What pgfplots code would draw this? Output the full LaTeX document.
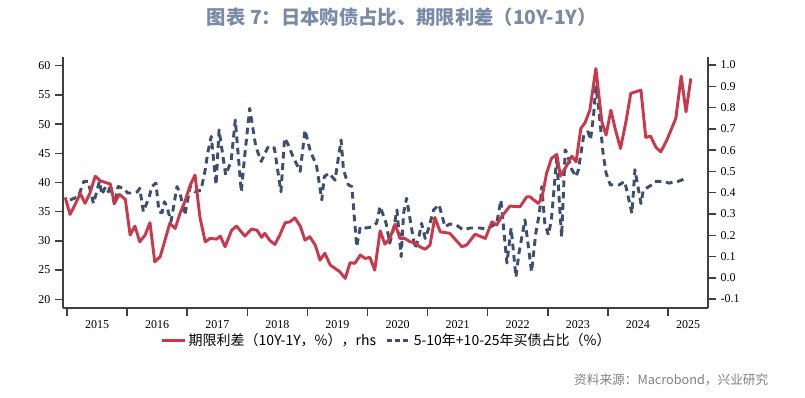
\documentclass[border=0pt]{standalone}
\usepackage{fontspec}
\setmainfont{Liberation Serif}
\newfontfamily\cjk{Noto Sans CJK SC}
\usepackage{pgfplots}
\pgfplotsset{compat=1.18}
\definecolor{redline}{RGB}{201,56,75}
\definecolor{blueline}{RGB}{61,78,110}
\definecolor{titlecol}{RGB}{122,139,166}
\definecolor{srccol}{RGB}{128,128,128}
\definecolor{axcol}{RGB}{64,64,64}
\begin{document}
\begin{tikzpicture}
\useasboundingbox (-47.25pt,-67.5pt) rectangle (556.5pt,231pt);
\begin{axis}[
  at={(0,0)}, anchor=south west, scale only axis,
  width=483.75pt, height=188.25pt,
  xmin=2014.933, xmax=2025.666, ymin=18.5, ymax=61.5,
  axis x line*=bottom, axis y line*=left,
  axis line style={axcol, line width=1.1pt, -},
  xtick={2015.5,2016.5,2017.5,2018.5,2019.5,2020.5,2021.5,2022.5,2023.5,2024.5,2025.333},
  xticklabels={2015,2016,2017,2018,2019,2020,2021,2022,2023,2024,2025},
  minor xtick={2015,2016,2017,2018,2019,2020,2021,2022,2023,2024,2025},
  major x tick style={draw=none},
  minor x tick style={axcol, line width=1.1pt},
  ytick={20,25,30,35,40,45,50,55,60},
  yticklabels={20,25,30,35,40,45,50,55,60},
  ytick style={axcol, line width=1.1pt},
  tick align=outside, major tick length=6pt, minor tick length=6pt,
  tick label style={font=\fontsize{9}{10}\selectfont, text=black},
]
\addplot[blueline, line width=2.2pt, dash pattern=on 5pt off 3.5pt, line join=round] coordinates {
(2015.05,37.0)(2015.19,37.6)(2015.28,40.2)(2015.35,40.2)(2015.44,36.4)(2015.54,40.2)(2015.58,37.9)(2015.64,39.3)(2015.69,38.4)(2015.72,39.6)(2015.79,36.2)(2015.85,39.3)(2015.94,39.0)(2016.01,38.2)(2016.09,38.2)(2016.17,38.4)(2016.21,39.0)(2016.27,35.0)(2016.37,37.6)(2016.41,39.3)(2016.48,39.9)(2016.53,35.0)(2016.58,34.8)(2016.62,36.7)(2016.66,35.9)(2016.73,33.3)(2016.83,39.3)(2016.88,38.2)(2016.96,34.4)(2017.05,39.3)(2017.13,38.4)(2017.23,38.7)(2017.30,42.2)(2017.34,45.0)(2017.40,47.9)(2017.48,39.6)(2017.53,49.0)(2017.64,41.3)(2017.73,43.6)(2017.80,50.7)(2017.90,38.4)(2017.95,43.9)(2018.04,52.7)(2018.14,46.2)(2018.23,43.6)(2018.35,46.2)(2018.45,45.9)(2018.56,38.4)(2018.62,47.6)(2018.67,46.7)(2018.77,44.2)(2018.88,41.9)(2018.96,49.0)(2019.05,45.3)(2019.15,43.0)(2019.24,37.0)(2019.28,41.0)(2019.36,41.6)(2019.46,40.4)(2019.56,47.3)(2019.60,42.2)(2019.68,39.6)(2019.74,39.3)(2019.82,29.0)(2019.88,32.4)(2019.98,32.2)(2020.07,32.4)(2020.15,33.0)(2020.21,35.9)(2020.31,33.0)(2020.37,29.6)(2020.43,31.9)(2020.49,35.3)(2020.56,27.3)(2020.60,34.7)(2020.65,37.3)(2020.71,33.6)(2020.79,28.7)(2020.85,30.4)(2020.90,33.0)(2020.96,30.4)(2021.01,31.9)(2021.10,35.3)(2021.19,36.2)(2021.29,32.4)(2021.37,32.9)(2021.48,32.7)(2021.59,31.9)(2021.71,32.2)(2021.87,32.2)(2021.98,32.0)(2022.15,33.0)(2022.22,37.0)(2022.32,26.2)(2022.39,32.2)(2022.47,23.8)(2022.52,27.9)(2022.62,33.6)(2022.73,24.7)(2022.80,31.3)(2022.86,34.7)(2022.90,39.3)(2022.95,33.0)(2023.01,31.0)(2023.06,33.6)(2023.15,44.4)(2023.19,37.0)(2023.23,30.7)(2023.29,45.6)(2023.32,45.0)(2023.40,42.2)(2023.47,41.0)(2023.51,42.2)(2023.60,48.2)(2023.67,48.7)(2023.71,47.3)(2023.76,51.3)(2023.80,56.4)(2023.84,53.3)(2023.89,48.2)(2023.92,45.0)(2023.97,41.6)(2024.04,39.6)(2024.19,39.6)(2024.28,40.2)(2024.40,34.7)(2024.45,42.2)(2024.55,36.4)(2024.59,38.7)(2024.73,39.6)(2024.78,40.2)(2024.91,40.2)(2025.02,39.9)(2025.17,40.2)(2025.30,40.7)
};
\end{axis}
\begin{axis}[
  at={(0,0)}, anchor=south west, scale only axis,
  width=483.75pt, height=188.25pt,
  xmin=2014.933, xmax=2025.666, ymin=-0.142, ymax=1.038,
  hide x axis, axis y line*=right,
  axis line style={axcol, line width=1.1pt, -},
  ytick={-0.1,0,0.1,0.2,0.3,0.4,0.5,0.6,0.7,0.8,0.9,1.0},
  yticklabels={-0.1,0.0,0.1,0.2,0.3,0.4,0.5,0.6,0.7,0.8,0.9,1.0},
  ytick style={axcol, line width=1.1pt},
  tick align=outside, major tick length=6pt,
  tick label style={font=\fontsize{9}{10}\selectfont, text=black},
  legend style={at={(0.502,-0.13)}, anchor=center, draw=none, fill=none,
    font=\cjk\fontsize{10.5}{12}\selectfont, legend columns=2,
    /tikz/every even column/.append style={column sep=5pt}},
  legend cell align=left,
]
\addplot[redline, line width=2.2pt, line join=round] coordinates {
(2014.97,0.378)(2015.05,0.298)(2015.13,0.342)(2015.22,0.397)(2015.30,0.350)(2015.38,0.397)(2015.47,0.478)(2015.55,0.456)(2015.72,0.441)(2015.79,0.350)(2015.87,0.392)(2015.97,0.369)(2016.05,0.201)(2016.13,0.243)(2016.21,0.169)(2016.30,0.201)(2016.38,0.259)(2016.46,0.075)(2016.55,0.099)(2016.63,0.177)(2016.71,0.256)(2016.80,0.232)(2016.88,0.303)(2016.96,0.357)(2017.05,0.436)(2017.13,0.483)(2017.21,0.287)(2017.30,0.169)(2017.38,0.185)(2017.49,0.182)(2017.55,0.196)(2017.63,0.146)(2017.74,0.224)(2017.82,0.243)(2017.96,0.196)(2018.07,0.229)(2018.16,0.224)(2018.24,0.190)(2018.29,0.209)(2018.38,0.174)(2018.46,0.157)(2018.54,0.201)(2018.63,0.259)(2018.71,0.263)(2018.79,0.282)(2018.88,0.243)(2018.96,0.177)(2019.04,0.193)(2019.13,0.154)(2019.21,0.083)(2019.29,0.115)(2019.38,0.060)(2019.54,0.028)(2019.63,-0.003)(2019.71,0.071)(2019.79,0.068)(2019.88,0.107)(2019.96,0.091)(2020.04,0.096)(2020.12,0.036)(2020.21,0.221)(2020.29,0.158)(2020.37,0.185)(2020.46,0.252)(2020.54,0.185)(2020.62,0.185)(2020.71,0.169)(2020.79,0.165)(2020.87,0.146)(2020.96,0.134)(2021.04,0.154)(2021.12,0.284)(2021.21,0.216)(2021.37,0.209)(2021.57,0.146)(2021.65,0.154)(2021.79,0.205)(2021.96,0.185)(2022.07,0.263)(2022.15,0.248)(2022.23,0.287)(2022.37,0.337)(2022.54,0.334)(2022.65,0.381)(2022.70,0.381)(2022.84,0.350)(2022.90,0.373)(2022.98,0.491)(2023.06,0.561)(2023.15,0.580)(2023.21,0.478)(2023.31,0.525)(2023.40,0.572)(2023.47,0.545)(2023.55,0.702)(2023.62,0.729)(2023.70,0.788)(2023.80,0.984)(2023.90,0.733)(2023.97,0.671)(2024.05,0.788)(2024.12,0.702)(2024.21,0.608)(2024.30,0.733)(2024.38,0.867)(2024.55,0.882)(2024.63,0.660)(2024.71,0.666)(2024.80,0.613)(2024.88,0.592)(2024.98,0.647)(2025.13,0.749)(2025.22,0.948)(2025.30,0.780)(2025.38,0.937)
};
\addlegendentry{期限利差（10Y-1Y，\%），rhs}
\addlegendimage{blueline, line width=2.2pt, dash pattern=on 4pt off 2pt}
\addlegendentry{5-10年+10-25年买债占比（\%）}
\end{axis}
\node[font=\cjk\bfseries\fontsize{14.5}{16}\selectfont, text=titlecol] at (254.25pt,218.25pt) {图表 7：日本购债占比、期限利差（10Y-1Y）};
\node[anchor=east, font=\cjk\fontsize{9.5}{11}\selectfont, text=srccol] at (532.5pt,-54pt) {资料来源：Macrobond，兴业研究};
\end{tikzpicture}
\end{document}
